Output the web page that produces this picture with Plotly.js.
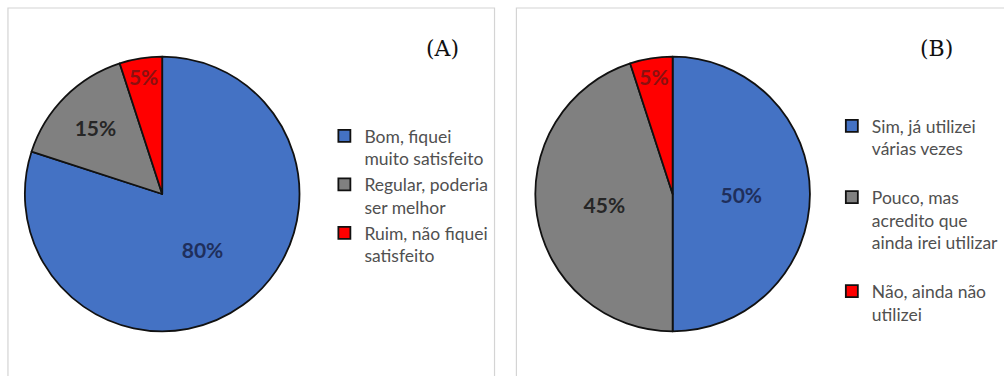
<!DOCTYPE html>
<html><head><meta charset="utf-8">
<script src="https://cdn.plot.ly/plotly-3.0.1.min.js"></script>
<style>html,body{margin:0;padding:0;background:#fff}#c{width:1004px;height:376px}</style>
</head><body><div id="c"></div>
<script>
const labelsA = ["Bom, fiquei<br>muito satisfeito", "Regular, poderia<br>ser melhor", "Ruim, não fiquei<br>satisfeito"];
const valuesA = [80, 15, 5];
const labelsB = ["Sim, já utilizei<br>várias vezes<br> ", "Pouco, mas<br>acredito que<br>ainda irei utilizar<br> ", "Não, ainda não<br>utilizei"];
const valuesB = [50, 45, 5];
const sliceColors = ["#4472C4", "#808080", "#FF0000"];
const textColors = ["#1F2F5C", "#262626", "#8B1010"];
const panelTitles = ["(A)", "(B)"];

const W = 1004, H = 376;
function pie(labels, values, dx, legend) {
  return {
    type: "pie", labels: labels, values: values, sort: false, direction: "clockwise", rotation: 0,
    marker: {colors: sliceColors, line: {color: "#111", width: 1.8}},
    textinfo: "percent", texttemplate: "%{percent:.0%}", textposition: "inside", insidetextorientation: "horizontal",
    textfont: {family: "Lato, 'Open Sans', sans-serif", size: 21, color: textColors, weight: "bold"},
    domain: {x: dx, y: [1 - 332/H, 1 - 56/H]},
    legend: legend, hoverinfo: "label+percent"
  };
}
const data = [
  pie(labelsA, valuesA, [25/W, 301/W], "legend"),
  pie(labelsB, valuesB, [538/W, 814/W], "legend2")
];
const legFont = {family: "Lato, 'Open Sans', sans-serif", size: 17.5, color: "#505050"};
const layout = {
  width: W, height: H, margin: {l: 0, r: 0, t: 0, b: 0},
  paper_bgcolor: "#fff", showlegend: true,
  uniformtext: {minsize: 21, mode: "show"},
  legend: {x: 326/W, y: 1 - 118/H, xanchor: "left", yanchor: "top", valign: "top", font: legFont, bgcolor: "rgba(0,0,0,0)", itemwidth: 30},
  legend2: {x: 836/W, y: 1 - 108/H, xanchor: "left", yanchor: "top", valign: "top", font: legFont, bgcolor: "rgba(0,0,0,0)", itemwidth: 30},
  shapes: [
    {type: "rect", xref: "paper", yref: "paper", x0: 8/W, x1: 497/W, y0: -0.05, y1: 1 - 8/H, line: {color: "#d4d4d4", width: 1.2}},
    {type: "rect", xref: "paper", yref: "paper", x0: 519/W, x1: 1.05, y0: -0.05, y1: 1 - 8/H, line: {color: "#d4d4d4", width: 1.2}}
  ],
  annotations: [
    {text: panelTitles[0], xref: "paper", yref: "paper", x: 445/W, y: 1 - 34/H, showarrow: false, font: {family: "'DejaVu Serif', 'Liberation Serif', serif", size: 22, color: "#111"}},
    {text: panelTitles[1], xref: "paper", yref: "paper", x: 960/W, y: 1 - 34/H, showarrow: false, font: {family: "'DejaVu Serif', 'Liberation Serif', serif", size: 22, color: "#111"}}
  ]
};
Plotly.newPlot("c", data, layout, {staticPlot: true, displayModeBar: false});
</script></body></html>
